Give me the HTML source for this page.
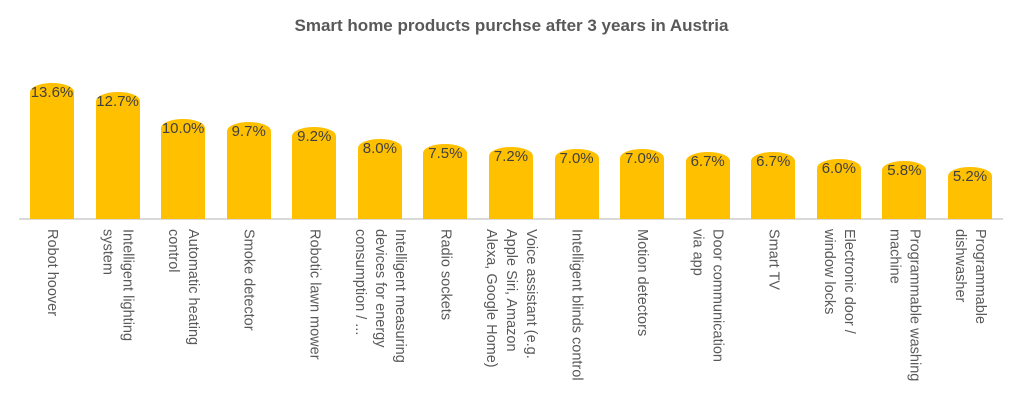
<!DOCTYPE html>
<html><head><style>
body{margin:0;width:1023px;height:401px;background:#fff;font-family:"Liberation Sans",sans-serif;position:relative;overflow:hidden}
.t{position:absolute;top:16px;left:0;width:1023px;text-align:center;font-weight:bold;font-size:17px;color:#595959}
.bar{position:absolute;width:44px;background:#ffc000;border-radius:22px 22px 0 0/9px 9px 0 0}
.v{position:absolute;width:66px;text-align:center;font-size:15px;color:#404040}
.lab{position:absolute;top:229px;width:66px;display:flex;justify-content:center}
.lab div{writing-mode:vertical-rl;font-size:14.5px;line-height:20px;color:#595959;white-space:nowrap}
.ax{position:absolute;left:19px;top:218px;width:984px;height:2px;background:#d9d9d9}
</style></head><body>
<div class="t">Smart home products purchse after 3 years in Austria</div>
<div class="ax"></div>
<div id="c"></div>
<script>
var d=[[13.6,"Robot hoover"],[12.7,"Intelligent lighting<br>system"],[10.0,"Automatic heating<br>control"],[9.7,"Smoke detector"],[9.2,"Robotic lawn mower"],[8.0,"Intelligent measuring<br>devices for energy<br>consumption / ..."],[7.5,"Radio sockets"],[7.2,"Voice assistant (e.g.<br>Apple Siri, Amazon<br>Alexa, Google Home)"],[7.0,"Intelligent blinds control"],[7.0,"Motion detectors"],[6.7,"Door communication<br>via app"],[6.7,"Smart TV"],[6.0,"Electronic door /<br>window locks"],[5.8,"Programmable washing<br>machine"],[5.2,"Programmable<br>dishwasher"]];
var h="";
d.forEach(function(e,i){var x=30+i*65.57,top=219-e[0]*10;
h+='<div class="bar" style="left:'+x+'px;top:'+top+'px;height:'+(219-top)+'px"></div>';
h+='<div class="v" style="left:'+(x-11)+'px;top:'+(top+1)+'px">'+e[0].toFixed(1)+'%</div>';
h+='<div class="lab" style="left:'+(x-11)+'px"><div>'+e[1]+'</div></div>';});
document.getElementById("c").innerHTML=h;
</script>
</body></html>
